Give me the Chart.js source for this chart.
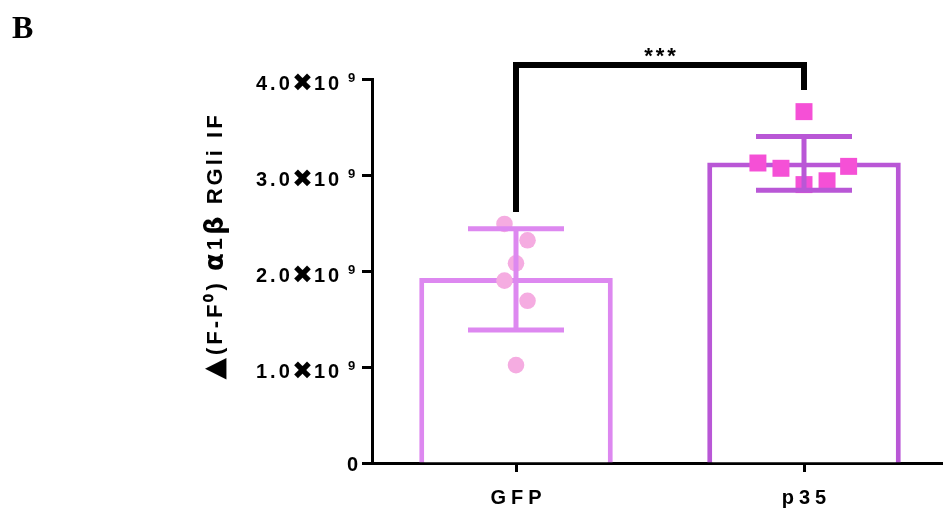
<!DOCTYPE html>
<html>
<head>
<meta charset="utf-8">
<script src="https://cdn.jsdelivr.net/npm/chart.js@4"></script>
<style>
  html, body { margin: 0; padding: 0; background: #fff; overflow: hidden; }
</style>
</head>
<body>
<canvas id="chart" width="960" height="512"></canvas>
<script>
// data
const categories = ["GFP", "p35"];
const barMeans = [1.927e9, 3.13e9];
const errUpper = [2.44e9, 3.40e9];
const errLower = [1.385e9, 2.84e9];
const gfpValues = [2.49e9, 2.32e9, 2.08e9, 1.90e9, 1.69e9, 1.02e9];
const gfpJitter = [-0.04, 0.04, 0, -0.04, 0.04, 0];
const p35Values = [3.66e9, 3.125e9, 3.07e9, 3.09e9, 2.90e9, 2.94e9];
const p35Jitter = [0, -0.16, -0.08, 0.155, 0, 0.08];
const yTicks = [0, 1e9, 2e9, 3e9, 4e9];
const yTickLabels = ["0", "1.0", "2.0", "3.0", "4.0"];
const bracketTop = 4.146e9;
const bracketEnds = [2.615e9, 3.885e9];

const barColors = ["#DD88F0", "#B957D6"];
const pointColors = ["#F5ACE1", "#F550D6"];

// pezzi del titolo asse y (testo, font)
const yTitleParts = [
  ["\u25B2", 'bold 28px "DejaVu Sans"'],
  ["(F-F\u2070) ", 'bold 22px "Liberation Sans"'],
  ["\u03B1", 'bold 26px "DejaVu Sans"'],
  ["1", 'bold 22px "Liberation Sans"'],
  ["\u03B2", 'bold 26px "DejaVu Sans"'],
  [" RGli IF", 'bold 22px "Liberation Sans"'],
];

// disegni extra: error bars, testi, parentesi
const extras = {
  id: "extras",
  afterDatasetsDraw(chart) {
    const ctx = chart.ctx;
    const x = chart.scales.x, y = chart.scales.y;
    ctx.save();
    ctx.lineWidth = 5;
    categories.forEach((c, i) => {
      const px = x.getPixelForValue(i);
      const top = y.getPixelForValue(errUpper[i]);
      const bot = y.getPixelForValue(errLower[i]);
      ctx.strokeStyle = barColors[i];
      ctx.beginPath();
      ctx.moveTo(px, top); ctx.lineTo(px, bot);
      ctx.moveTo(px - 48, top); ctx.lineTo(px + 48, top);
      ctx.moveTo(px - 48, bot); ctx.lineTo(px + 48, bot);
      ctx.stroke();
    });
    ctx.restore();
  },
  afterDraw(chart) {
    const ctx = chart.ctx;
    const x = chart.scales.x, y = chart.scales.y;
    ctx.save();
    ctx.fillStyle = "#000";

    // panel letter
    ctx.font = 'bold 32px "Liberation Serif"';
    ctx.textAlign = "left";
    ctx.textBaseline = "alphabetic";
    ctx.fillText("B", 12, 38);

    // y tick labels
    yTicks.forEach((v, i) => {
      const py = y.getPixelForValue(v);
      ctx.textBaseline = "alphabetic";
      if (v === 0) {
        ctx.font = 'bold 20px "Liberation Sans"';
        ctx.letterSpacing = "0px";
        ctx.textAlign = "right";
        ctx.fillText(yTickLabels[i], 358, py + 8);
        return;
      }
      ctx.textAlign = "left";
      ctx.font = 'bold 20px "Liberation Sans"';
      ctx.letterSpacing = "3px";
      ctx.fillText(yTickLabels[i], 256, py + 11);
      ctx.letterSpacing = "0px";
      ctx.font = 'bold 25px "DejaVu Sans"';
      ctx.fillText("\u2716", 292, py + 12);
      ctx.font = 'bold 20px "Liberation Sans"';
      ctx.letterSpacing = "3px";
      ctx.fillText("10", 314, py + 11);
      ctx.letterSpacing = "0px";
      ctx.font = 'bold 13px "Liberation Sans"';
      ctx.fillText("9", 348, py + 3);
    });

    // x labels
    ctx.font = 'bold 20px "Liberation Sans"';
    ctx.letterSpacing = "5px";
    ctx.textAlign = "center";
    ctx.textBaseline = "alphabetic";
    categories.forEach((c, i) => {
      ctx.fillText(c, x.getPixelForValue(i) + 2.5, 504);
    });

    // y title, a pezzi
    ctx.save();
    ctx.translate(215, 246);
    ctx.rotate(-Math.PI / 2);
    ctx.letterSpacing = "3px";
    ctx.textAlign = "left";
    ctx.textBaseline = "middle";
    let total = 0;
    yTitleParts.forEach(([t, f]) => { ctx.font = f; total += ctx.measureText(t).width; });
    let cx = -total / 2;
    yTitleParts.forEach(([t, f]) => {
      ctx.font = f;
      ctx.fillText(t, cx, 1);
      cx += ctx.measureText(t).width;
    });
    ctx.restore();

    // significance bracket
    const x0 = x.getPixelForValue(0), x1 = x.getPixelForValue(1);
    const yt = y.getPixelForValue(bracketTop);
    ctx.strokeStyle = "#000";
    ctx.lineWidth = 6;
    ctx.lineJoin = "miter";
    ctx.beginPath();
    ctx.moveTo(x0, y.getPixelForValue(bracketEnds[0]));
    ctx.lineTo(x0, yt);
    ctx.lineTo(x1, yt);
    ctx.lineTo(x1, y.getPixelForValue(bracketEnds[1]));
    ctx.stroke();

    ctx.font = 'bold 22px "Liberation Sans"';
    ctx.letterSpacing = "3px";
    ctx.textAlign = "center";
    ctx.textBaseline = "alphabetic";
    ctx.fillText("***", (x0 + x1) / 2 + 1.5, yt - 2);
    ctx.restore();
  }
};

const ctx = document.getElementById("chart").getContext("2d");
new Chart(ctx, {
  type: "bar",
  data: {
    datasets: [
      {
        data: barMeans.map((v, i) => ({ x: i, y: v })),
        backgroundColor: "#fff",
        borderColor: barColors,
        borderWidth: 5,
        borderSkipped: "start",
        grouped: false,
        categoryPercentage: 1,
        barPercentage: 0.672,
        order: 3,
      },
      {
        type: "scatter",
        data: gfpValues.map((v, i) => ({ x: 0 + gfpJitter[i], y: v })),
        pointStyle: "circle",
        pointRadius: 8.3,
        pointBackgroundColor: pointColors[0],
        pointBorderWidth: 0,
        order: 1,
      },
      {
        type: "scatter",
        data: p35Values.map((v, i) => ({ x: 1 + p35Jitter[i], y: v })),
        pointStyle: "rect",
        pointRadius: 12,
        pointBackgroundColor: pointColors[1],
        pointBorderWidth: 0,
        order: 1,
      },
    ],
  },
  options: {
    responsive: false,
    animation: false,
    layout: { padding: { top: 79, right: 9, left: 0, bottom: 0 } },
    plugins: { legend: { display: false }, tooltip: { enabled: false } },
    scales: {
      x: {
        type: "linear",
        min: -0.5,
        max: 1.5,
        offset: false,
        z: 1,
        afterBuildTicks(s) { s.ticks = categories.map((c, i) => ({ value: i })); },
        grid: {
          display: true,
          offset: false,
          drawOnChartArea: false,
          drawTicks: true,
          tickLength: 9,
          tickColor: "#000",
          tickWidth: 3,
        },
        border: { display: true, color: "#000", width: 3 },
        ticks: { display: false },
        afterFit(s) { s.height = 49; },
      },
      y: {
        min: 0,
        max: 4e9,
        z: 1,
        afterBuildTicks(s) { s.ticks = yTicks.map(v => ({ value: v })); },
        grid: {
          display: true,
          drawOnChartArea: false,
          drawTicks: true,
          tickLength: 10,
          tickColor: "#000",
          tickWidth: 3,
        },
        border: { display: true, color: "#000", width: 3 },
        ticks: { display: false },
        afterFit(s) { s.width = 372; },
      },
    },
  },
  plugins: [extras],
});
</script>
</body>
</html>
